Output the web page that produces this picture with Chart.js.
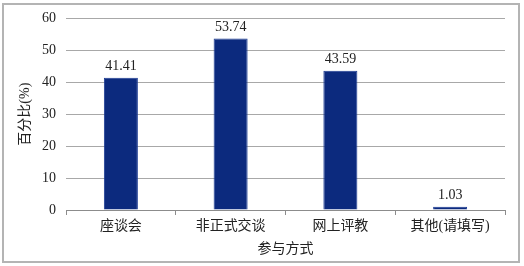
<!DOCTYPE html>
<html>
<head>
<meta charset="utf-8">
<script src="https://cdn.jsdelivr.net/npm/chart.js@4"></script>
<style>
  html, body { margin: 0; padding: 0; background: #fff; }
  #wrap { position: relative; width: 524px; height: 266px; }
  #frame { position: absolute; left: 2px; top: 3px; width: 514px; height: 256px; border: 2px solid #b4b4b4; pointer-events: none; }
</style>
</head>
<body>
<div id="wrap">
  <canvas id="chart" width="524" height="266"></canvas>
  <div id="frame"></div>
</div>
<script>
  // 参与方式 vs 百分比
  const categories = ['座谈会', '非正式交谈', '网上评教', '其他(请填写)'];
  const percentages = [41.41, 53.74, 43.59, 1.03];
  const yTicks = [0, 10, 20, 30, 40, 50, 60];

  const FONT = "'Liberation Serif', 'Times New Roman', 'Noto Sans CJK SC', serif";

  // value labels above each bar
  const valueLabels = {
    id: 'valueLabels',
    afterDatasetsDraw(chart) {
      const ctx = chart.ctx;
      const meta = chart.getDatasetMeta(0);
      ctx.save();
      ctx.font = '14px ' + FONT;
      ctx.fillStyle = '#222';
      ctx.textAlign = 'center';
      ctx.textBaseline = 'bottom';
      meta.data.forEach((bar, i) => {
        ctx.fillText(percentages[i].toFixed(2), bar.x, bar.y - 4);
      });
      ctx.restore();
    }
  };

  new Chart(document.getElementById('chart'), {
    type: 'bar',
    data: {
      labels: categories,
      datasets: [{
        data: percentages,
        backgroundColor: '#0c2a7e',
        borderColor: '#1d3c94',
        borderWidth: 1,
        categoryPercentage: 1,
        barPercentage: 0.31
      }]
    },
    options: {
      responsive: false,
      animation: false,
      layout: { padding: { left: 0, right: 19, top: 13, bottom: 0 } },
      plugins: { legend: { display: false }, tooltip: { enabled: false } },
      scales: {
        x: {
          afterFit(scale) { scale.height = 56; },
          grid: {
            offset: true,
            drawOnChartArea: false,
            drawTicks: true,
            tickLength: 5,
            color: '#8c8c8c'
          },
          border: { color: '#8c8c8c', width: 1 },
          ticks: { color: '#222', font: { family: FONT, size: 14 }, padding: 3 },
          title: {
            display: true,
            text: '参与方式',
            color: '#222',
            font: { family: FONT, size: 14 },
            padding: { top: 0, bottom: 8 }
          }
        },
        y: {
          min: 0,
          max: 60,
          afterFit(scale) { scale.width = 66; },
          afterBuildTicks(scale) { scale.ticks = yTicks.map(v => ({ value: v })); },
          grid: { color: '#a8a8a8', drawTicks: false },
          border: { display: false },
          ticks: { color: '#222', font: { family: FONT, size: 14 }, padding: 10 },
          title: {
            display: true,
            text: '百分比(%)',
            color: '#222',
            font: { family: FONT, size: 14 },
            padding: { top: 17, bottom: 0 }
          }
        }
      }
    },
    plugins: [valueLabels]
  });
</script>
</body>
</html>
